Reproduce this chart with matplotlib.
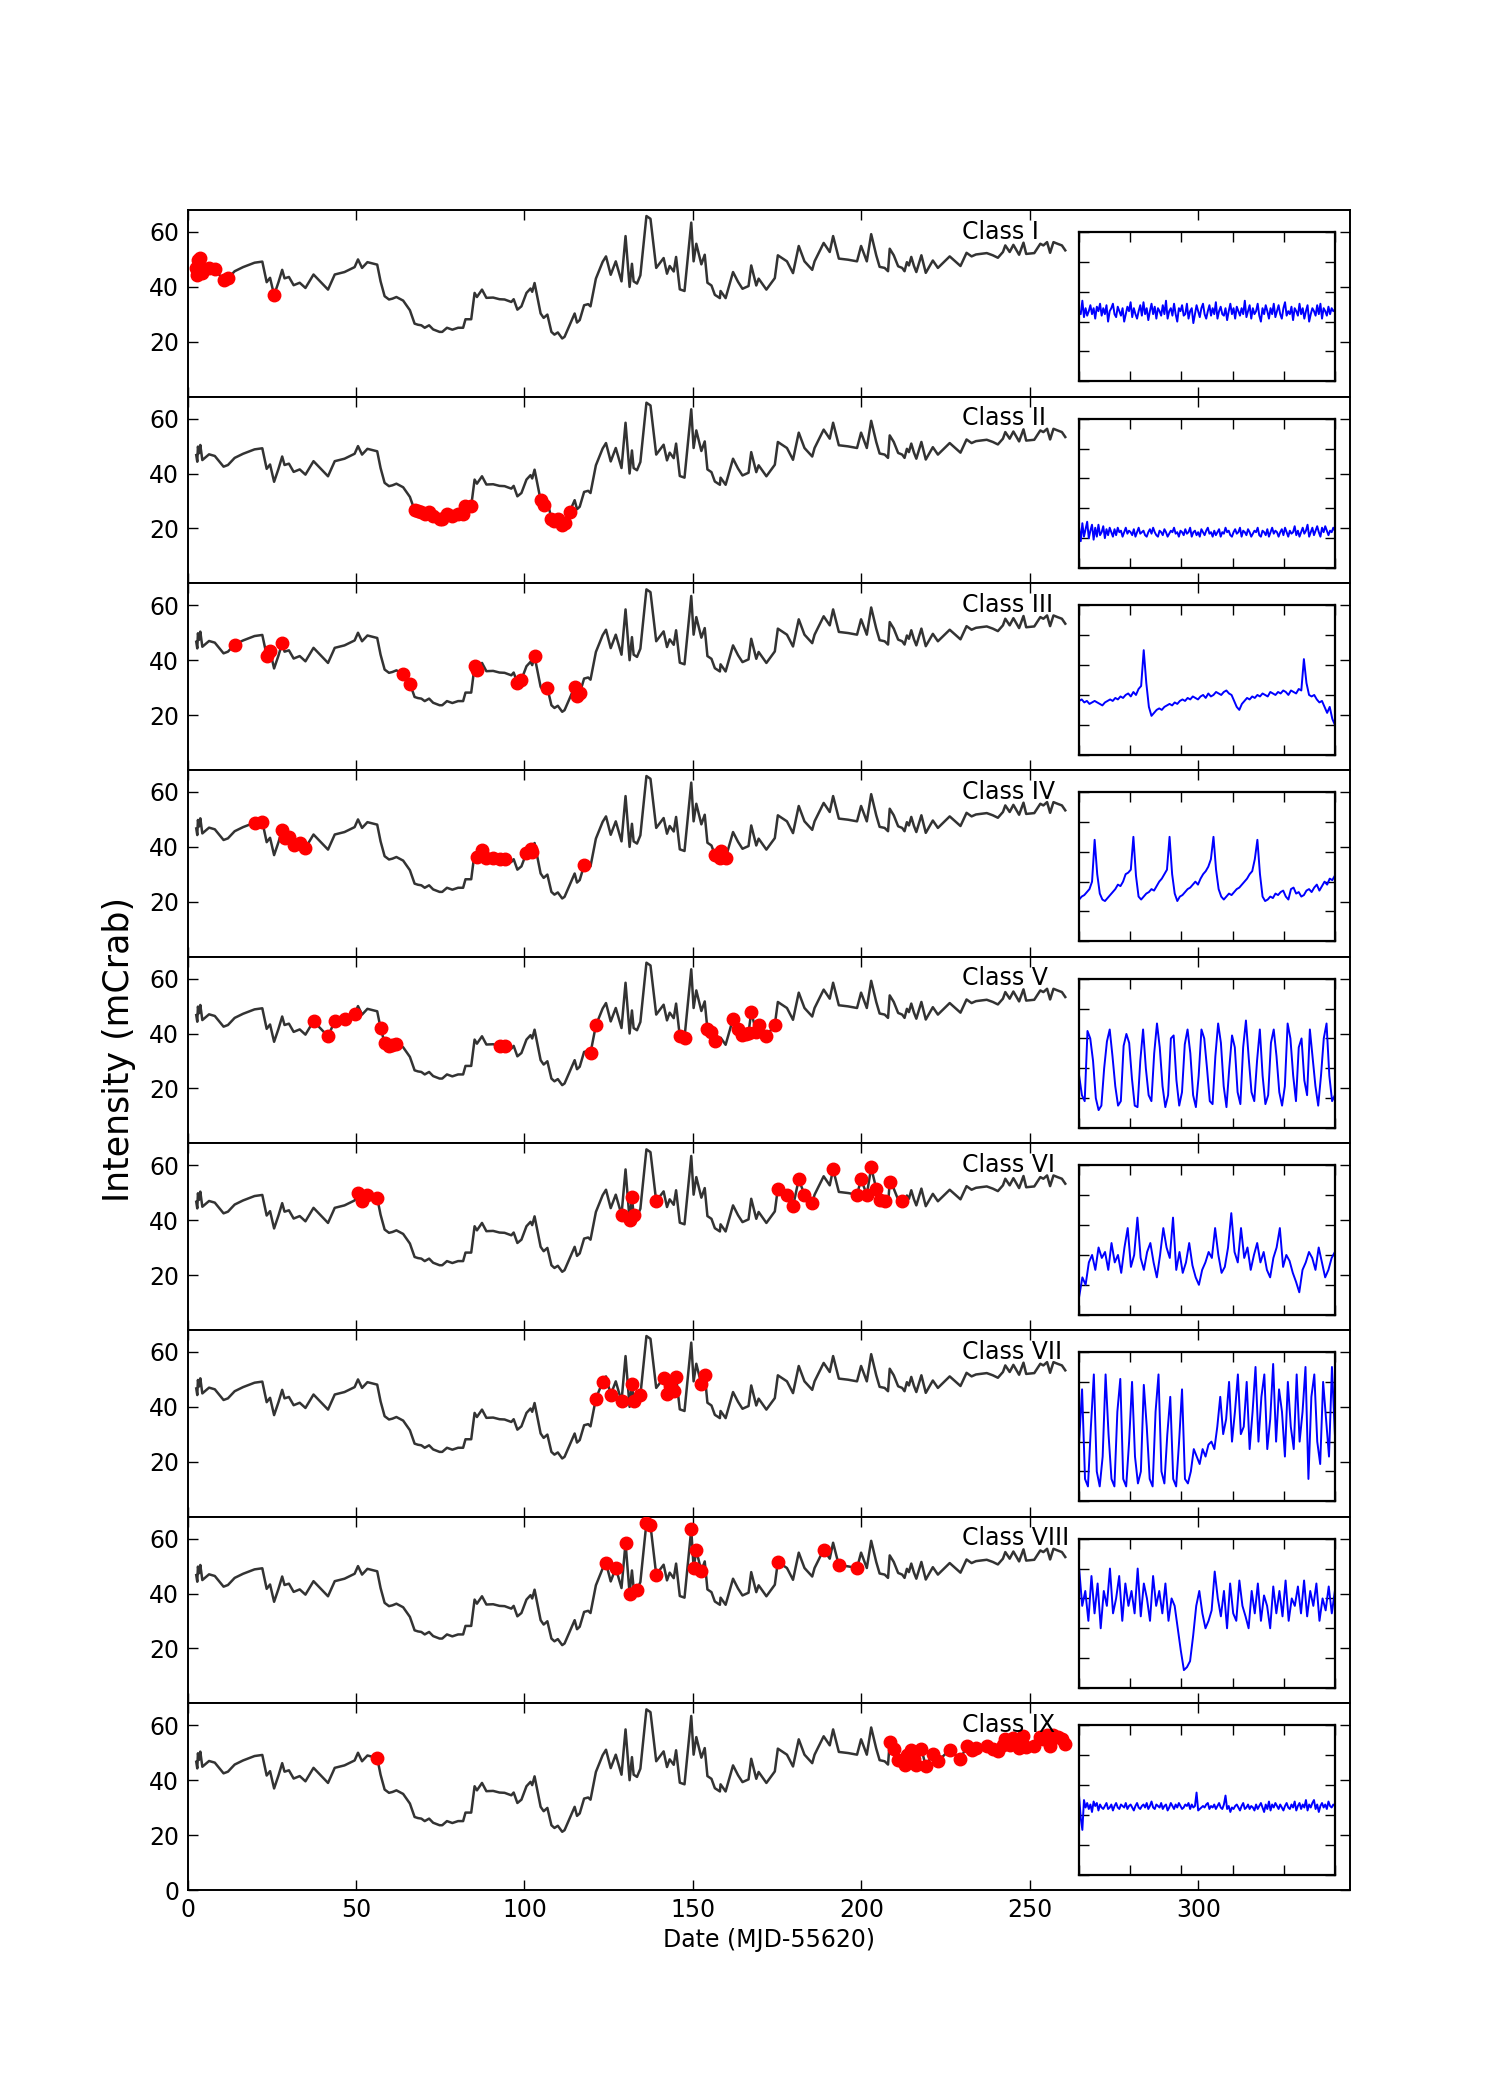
import numpy as np
import matplotlib
matplotlib.use('Agg')
import matplotlib.pyplot as plt

# ---- long-term light curve (MJD-55620, mCrab) ----
days = [2.6, 2.9, 3.1, 3.4, 3.8, 4.4, 6.4, 8.1, 10.7, 12.0, 14.0, 16.5, 19.9, 22.2,
        23.5, 24.5, 25.7, 27.0, 28.1, 28.8, 30.1, 31.5, 33.3, 35.0, 37.4, 41.7, 43.7,
        46.6, 49.6, 50.6, 51.8, 53.4, 56.3, 57.3, 58.5, 59.8, 60.8, 62.0, 64.0, 66.0, 67.4,
        68.4, 69.4, 70.4, 71.7, 72.9, 74.8, 75.6, 77.0, 78.6, 80.3, 81.8, 82.5, 84.2,
        85.2, 85.9, 87.4, 88.7, 90.7, 92.6, 94.1, 96.1, 96.8, 97.9, 99.1, 100.6, 101.8,
        102.3, 103.0, 104.8, 105.7, 106.8, 108.0, 108.9, 109.9, 111.2, 111.9, 113.4,
        114.9, 115.6, 116.4, 117.7, 118.9, 119.6, 121.2, 123.2, 124.2, 125.6, 127.1,
        128.8, 130.0, 131.2, 131.9, 132.4, 133.4, 134.4, 136.2, 137.4, 139.1, 141.3,
        142.3, 143.1, 144.3, 145.0, 146.1, 147.5, 149.5, 150.2, 151.0, 152.5, 153.5,
        154.3, 155.5, 156.5, 158.0, 158.2, 159.7, 161.9, 163.4, 164.7, 165.8, 166.5,
        167.3, 168.8, 169.5, 171.8, 174.3, 175.2, 177.9, 179.7, 181.4, 183.1, 185.4,
        186.1, 188.8, 190.6, 191.6, 193.3, 196.0, 198.7, 199.9, 201.6, 202.9, 204.4,
        205.4, 206.9, 207.9, 208.4, 209.6, 210.9, 212.1, 212.8, 213.5, 214.1, 214.8,
        215.6, 216.3, 217.8, 219.1, 221.2, 222.7, 226.2, 229.4, 231.2, 232.7, 234.0,
        237.2, 239.0, 240.5, 242.0, 242.7, 244.0, 245.1, 246.8, 248.1, 248.9, 251.3,
        253.1, 254.0, 255.1, 256.0, 257.0, 258.2, 259.5, 260.5]
flux = [46.7, 44.3, 49.8, 47.4, 50.4, 44.9, 47.0, 46.4, 42.5, 43.1, 45.7, 47.2, 48.8, 49.2,
        41.7, 43.3, 37.0, 41.7, 46.2, 43.1, 43.6, 40.6, 41.5, 39.6, 44.5, 39.0, 44.5,
        45.4, 47.2, 50.0, 46.9, 49.0, 48.1, 42.0, 36.6, 35.4, 35.7, 36.3, 35.0, 31.5, 26.6,
        26.2, 26.0, 25.1, 26.0, 24.5, 23.6, 23.6, 25.1, 24.4, 25.1, 25.1, 28.2, 28.2,
        37.8, 36.3, 39.0, 36.0, 36.1, 35.5, 35.4, 34.5, 35.5, 31.7, 32.9, 37.8, 39.4,
        38.2, 41.4, 30.3, 28.7, 29.9, 23.6, 22.6, 23.4, 21.2, 21.8, 26.0,
        30.3, 27.0, 27.9, 33.3, 33.7, 32.9, 43.0, 49.1, 51.1, 44.4, 49.3,
        42.0, 58.5, 40.0, 48.4, 42.0, 41.2, 44.2, 65.8, 64.8, 46.9, 50.5,
        44.8, 47.6, 45.6, 50.9, 39.1, 38.5, 63.4, 49.3, 55.7, 48.2, 51.7,
        41.5, 40.5, 37.1, 35.9, 38.5, 35.9, 45.4, 41.8, 39.3, 39.9, 40.3,
        47.8, 40.5, 43.0, 39.0, 43.2, 51.5, 49.3, 45.0, 54.9, 49.3, 46.2,
        49.3, 56.0, 52.7, 58.5, 50.3, 49.9, 49.3, 54.9, 49.3, 59.2, 51.5,
        47.3, 46.9, 45.7, 53.9, 51.5, 47.5, 46.9, 45.7, 49.0, 47.8, 50.9,
        47.6, 45.4, 51.5, 45.1, 49.6, 46.9, 51.1, 47.6, 52.4, 51.1, 51.8,
        52.3, 51.5, 50.6, 52.7, 55.1, 52.7, 55.3, 51.7, 56.1, 52.0, 52.3,
        55.7, 55.1, 56.3, 52.4, 56.3, 55.7, 55.1, 53.3]

class_names = ['Class I', 'Class II', 'Class III', 'Class IV', 'Class V',
               'Class VI', 'Class VII', 'Class VIII', 'Class IX']

# ---- days of observations belonging to each class (red dots) ----
red_I = [2.6, 2.9, 3.1, 3.4, 3.8, 4.4, 6.4, 8.1, 10.7, 12.0, 25.7]
red_II = [67.4, 68.4, 69.4, 70.4, 71.7, 72.9, 74.8, 75.6, 77.0, 78.6, 80.3, 81.8, 82.5,
          84.2, 104.8, 105.7, 108.0, 108.9, 109.9, 111.2, 111.9, 113.4]
red_III = [14.0, 23.5, 24.5, 28.1, 64.0, 66.0, 85.2, 85.9, 97.9, 99.1, 103.0, 106.8,
           114.9, 115.6, 116.4]
red_IV = [19.9, 22.2, 28.1, 28.8, 30.1, 31.5, 33.3, 35.0, 85.9, 87.4, 88.7, 90.7, 92.6,
          94.1, 100.6, 101.8, 102.3, 117.7, 156.5, 158.0, 158.2, 159.7]
red_V = [37.4, 41.7, 43.7, 46.6, 49.6, 57.3, 58.5, 59.8, 60.8, 62.0, 92.6, 94.1, 119.6,
         121.2, 146.1, 147.5, 154.3, 155.5, 156.5, 161.9, 163.4, 164.7, 165.8, 166.5,
         167.3, 168.8, 169.5, 171.8, 174.3]
red_VI = [50.6, 51.8, 53.4, 56.3, 128.8, 131.2, 131.9, 132.4, 139.1, 175.2, 177.9, 179.7,
          181.4, 183.1, 185.4, 191.6, 198.7, 199.9, 201.6, 202.9, 204.4, 205.4, 206.9,
          208.4, 212.1]
red_VII = [121.2, 123.2, 125.6, 128.8, 131.9, 132.4, 134.4, 141.3, 142.3, 143.1, 144.3,
           145.0, 152.5, 153.5]
red_VIII = [124.2, 127.1, 130.0, 131.2, 133.4, 136.2, 137.4, 139.1, 149.5, 150.2, 151.0,
            152.5, 175.2, 188.8, 193.3, 198.7]
red_IX = [56.3, 208.4, 209.6, 210.9, 212.1, 212.8, 213.5, 214.1, 214.8, 215.6, 216.3,
          217.8, 219.1, 221.2, 222.7, 226.2, 229.4, 231.2, 232.7, 234.0, 237.2, 239.0,
          240.5, 242.0, 242.7, 244.0, 245.1, 246.8, 248.1, 248.9, 251.3, 253.1, 254.0,
          255.1, 256.0, 257.0, 258.2, 259.5, 260.5]

# ---- example short light curves of each class (insets, arbitrary units) ----
ins_I = [47, 45, 54, 43, 49, 44, 47, 51, 45, 49, 42, 50, 47, 52, 44, 49, 45, 51, 40, 47,
         49, 52, 45, 43, 50, 47, 44, 49, 40, 45, 50, 47, 53, 43, 49, 45, 42, 47, 51, 44,
         53, 45, 49, 41, 47, 52, 45, 50, 42, 49, 47, 44, 51, 45, 54, 42, 47, 49, 44, 52,
         45, 40, 49, 47, 51, 44, 45, 52, 42, 47, 49, 39, 45, 51, 47, 43, 49, 52, 45, 42,
         47, 51, 44, 49, 45, 53, 42, 47, 50, 45, 44, 49, 41, 47, 52, 45, 49, 42, 50, 47,
         44, 49, 45, 54, 43, 47, 51, 42, 49, 45, 47, 52, 44, 40, 49, 45, 51, 47, 42, 49,
         45, 52, 43, 47, 51, 45, 42, 49, 53, 44, 47, 45, 50, 41, 49, 47, 44, 52, 45, 49,
         42, 47, 51, 40, 45, 49, 47, 44, 51, 45, 52, 42, 49, 47, 44, 50, 45, 49, 47, 48]
ins_II = [27, 18, 30, 21, 26, 31, 20, 25, 29, 19, 27, 21, 29, 22, 24, 28, 20, 26, 22, 27,
          24, 21, 26, 22, 27, 24, 25, 21, 24, 27, 23, 25, 24, 22, 26, 21, 24, 27, 23, 24,
          25, 22, 21, 24, 26, 23, 27, 24, 22, 21, 25, 24, 22, 26, 24, 21, 23, 25, 24, 27,
          23, 24, 21, 25, 24, 22, 26, 23, 24, 27, 21, 24, 25, 22, 24, 21, 26, 24, 22, 25,
          27, 23, 24, 21, 25, 22, 24, 26, 21, 24, 23, 27, 24, 25, 22, 21, 24, 26, 23, 24,
          27, 21, 25, 24, 22, 26, 24, 21, 23, 25, 24, 27, 22, 21, 25, 24, 22, 26, 21, 24,
          27, 23, 25, 24, 21, 24, 26, 22, 27, 24, 21, 25, 23, 24, 28, 22, 25, 21, 24, 27,
          23, 25, 29, 21, 24, 27, 22, 25, 28, 24, 21, 27, 24, 28, 25, 22, 25, 24, 27, 25]
ins_III = [36, 37, 35, 36, 34, 35, 36, 35, 34, 33, 35, 36, 37, 36, 38, 37, 39, 38, 40, 41,
           39, 42, 40, 44, 46, 70, 48, 32, 26, 28, 30, 31, 30, 32, 33, 34, 33, 35, 34, 36,
           37, 36, 38, 37, 39, 38, 37, 39, 40, 38, 41, 39, 40, 42, 41, 40, 42, 43, 41, 40,
           36, 32, 30, 34, 36, 38, 37, 39, 38, 40, 39, 41, 40, 39, 42, 41, 40, 42, 41, 43,
           42, 40, 43, 42, 41, 44, 43, 64, 48, 40, 39, 40, 37, 35, 36, 32, 28, 32, 24, 20]
ins_IV = [28, 30, 31, 33, 35, 40, 68, 45, 32, 28, 27, 29, 31, 33, 35, 38, 37, 40, 45, 46, 48,
          70, 44, 30, 28, 30, 32, 33, 35, 34, 37, 40, 42, 45, 48, 70, 45, 32, 27, 30, 31, 33,
          35, 36, 38, 40, 38, 42, 45, 47, 50, 55, 70, 48, 35, 30, 28, 30, 32, 31, 33, 35, 36,
          38, 40, 42, 45, 47, 55, 68, 45, 30, 27, 28, 30, 29, 32, 31, 33, 34, 30, 28, 35, 36,
          32, 33, 30, 31, 34, 35, 33, 36, 38, 34, 37, 40, 38, 42, 41, 44]
ins_V = [35, 22, 18, 65, 60, 45, 20, 12, 15, 40, 58, 66, 48, 28, 15, 18, 55, 63, 57, 33, 15,
         14, 45, 66, 40, 22, 18, 50, 70, 54, 28, 14, 22, 60, 62, 32, 15, 24, 56, 66, 50, 22,
         14, 35, 66, 60, 40, 18, 16, 48, 70, 57, 28, 14, 40, 62, 54, 24, 16, 54, 72, 47, 24,
         18, 45, 66, 35, 16, 22, 57, 66, 48, 24, 15, 28, 70, 60, 35, 18, 54, 60, 32, 22, 66,
         47, 28, 15, 35, 60, 70, 35, 18, 22]
ins_VI = [12, 25, 20, 35, 40, 30, 45, 38, 42, 30, 48, 35, 40, 28, 45, 58, 32, 40, 65, 38, 30,
          42, 48, 35, 25, 40, 58, 45, 38, 65, 30, 42, 28, 35, 48, 33, 25, 20, 30, 35, 42, 38,
          58, 40, 28, 32, 45, 68, 42, 35, 58, 38, 45, 30, 40, 48, 35, 42, 30, 25, 38, 45, 58,
          32, 40, 36, 28, 22, 15, 30, 35, 42, 38, 30, 45, 35, 25, 30, 38, 42]
ins_VII = [40, 75, 15, 10, 50, 85, 20, 10, 30, 85, 45, 15, 10, 60, 82, 15, 10, 40, 80, 30,
           12, 20, 78, 50, 15, 10, 60, 85, 20, 12, 45, 70, 15, 10, 40, 75, 15, 12, 20, 35,
           30, 25, 35, 30, 38, 40, 35, 50, 70, 45, 55, 80, 40, 60, 85, 45, 50, 80, 35, 60,
           90, 40, 70, 85, 35, 55, 92, 40, 75, 60, 30, 80, 50, 35, 85, 40, 60, 90, 15, 70,
           85, 40, 25, 80, 55, 30, 90, 45]
ins_VIII = [80, 55, 65, 45, 75, 50, 70, 40, 65, 55, 80, 50, 60, 75, 45, 70, 55, 65, 50, 80,
            48, 70, 60, 45, 75, 55, 65, 50, 70, 45, 60, 55, 40, 25, 12, 14, 18, 35, 55, 65,
            50, 40, 45, 52, 78, 60, 48, 65, 40, 70, 50, 45, 72, 55, 48, 40, 65, 50, 70, 45,
            62, 55, 40, 68, 50, 65, 48, 72, 45, 60, 55, 68, 50, 72, 48, 65, 55, 70, 45, 60,
            52, 68, 50, 65]
ins_IX = [52, 38, 30, 50, 45, 48, 44, 47, 42, 49, 46, 48, 43, 47, 45, 44, 46, 48, 44, 45,
          47, 43, 46, 48, 45, 44, 47, 46, 45, 48, 44, 46, 47, 45, 43, 46, 48, 45, 44, 46,
          47, 45, 48, 44, 46, 49, 45, 44, 47, 46, 45, 48, 44, 46, 47, 43, 45, 48, 46, 44,
          47, 45, 48, 46, 44, 45, 47, 46, 48, 44, 47, 45, 46, 55, 43, 44, 45, 46, 45, 47,
          48, 44, 46, 45, 47, 44, 46, 48, 45, 44, 47, 53, 44, 46, 42, 45, 44, 46, 47, 45,
          43, 46, 48, 44, 45, 47, 44, 46, 45, 43, 47, 44, 46, 48, 45, 42, 47, 44, 49, 43,
          47, 45, 48, 46, 44, 47, 45, 43, 46, 48, 45, 44, 47, 45, 49, 43, 46, 48, 44, 47,
          45, 50, 43, 47, 45, 48, 50, 44, 47, 42, 46, 48, 45, 47, 44, 49, 46, 45, 47, 46]

red_sets = [red_I, red_II, red_III, red_IV, red_V, red_VI, red_VII, red_VIII, red_IX]
ins_sets = [ins_I, ins_II, ins_III, ins_IV, ins_V, ins_VI, ins_VII, ins_VIII, ins_IX]

days_arr = np.asarray(days)
flux_arr = np.asarray(flux)

plt.rcParams['font.family'] = ['DejaVu Sans']
fig, axes = plt.subplots(9, 1, figsize=(15, 21), dpi=100, sharex=True)
fig.subplots_adjust(left=0.125, right=0.9, bottom=0.1, top=0.9, hspace=0)

for i, ax in enumerate(axes):
    ax.plot(days_arr, flux_arr, color='#333333', lw=1.8, zorder=2)
    idx = [int(np.argmin(np.abs(days_arr - d))) for d in red_sets[i]]
    ax.plot(days_arr[idx], flux_arr[idx], 'o', color='red', mec='red', ms=9, zorder=3)
    ax.set_xlim(0, 345)
    ax.set_ylim(0, 68)
    ax.set_yticks([0, 20, 40, 60])
    if i < 8:
        ax.set_yticklabels(['', '20', '40', '60'])
    ax.set_xticks([0, 50, 100, 150, 200, 250, 300])
    ax.tick_params(direction='in', top=True, right=True, length=7, width=1,
                   labelsize=17, pad=6)
    for sp in ax.spines.values():
        sp.set_linewidth(1.4)
    ax.text(230, 57.5, class_names[i], fontsize=17, ha='left', va='baseline')

    ins = ax.inset_axes([0.767, 0.082, 0.22, 0.80])
    s = ins_sets[i]
    ins.plot(np.arange(len(s)), s, color='blue', lw=1.4)
    ins.set_xlim(0, len(s) - 1)
    ins.set_ylim(0, 100)
    ins.set_xticks(np.linspace(0, len(s) - 1, 6))
    ins.set_yticks(np.arange(0, 101, 20))
    ins.tick_params(direction='in', top=True, right=True, length=7, width=1,
                    labelleft=False, labelbottom=False)
    for sp in ins.spines.values():
        sp.set_linewidth(1.6)

axes[-1].set_xlabel('Date (MJD-55620)', fontsize=17)
fig.text(0.079, 0.5, 'Intensity (mCrab)', rotation=90, va='center', ha='center',
         fontsize=25)

fig.savefig('out.png', dpi=100)
